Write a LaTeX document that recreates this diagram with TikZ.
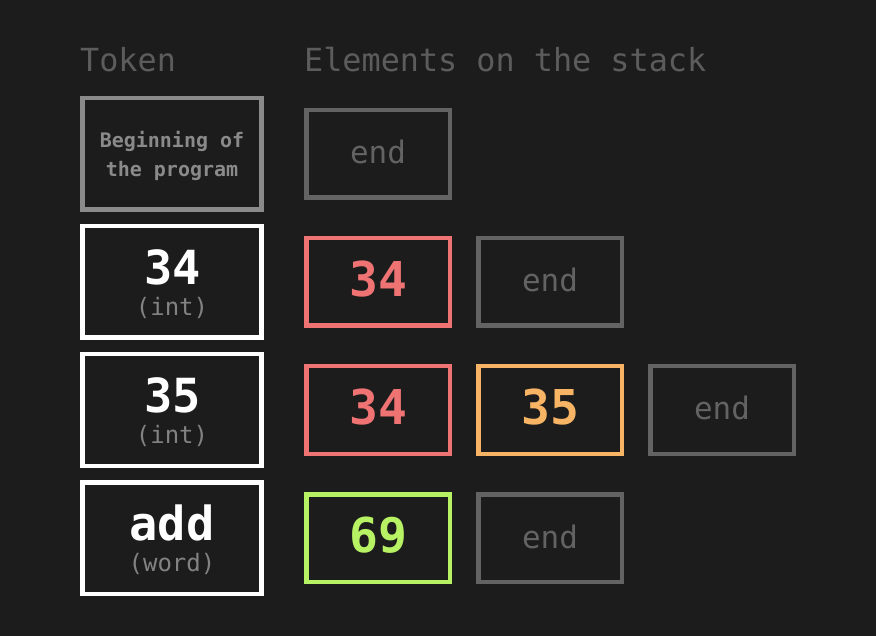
\documentclass[tikz,border=0pt]{standalone}
\usepackage{fontspec}
\setmainfont{DejaVu Sans Mono}
\setmonofont{DejaVu Sans Mono}
\definecolor{bg}{HTML}{1C1C1C}
\definecolor{hdr}{HTML}{5C5C5C}
\definecolor{endc}{HTML}{636363}
\definecolor{begc}{HTML}{8A8A8A}
\definecolor{typec}{HTML}{828282}
\definecolor{redc}{HTML}{F07373}
\definecolor{orc}{HTML}{F6B464}
\definecolor{grc}{HTML}{B6F264}
\tikzset{
  header/.style={anchor=base west, inner sep=0pt, text=hdr, font=\fontsize{31.8}{36}\selectfont},
  tokbox/.style={draw=white, line width=4.5pt, minimum width=179pt, minimum height=111.5pt, inner sep=0pt},
  stackbox/.style={line width=4.5pt, minimum width=143.5pt, minimum height=87.5pt, inner sep=0pt},
  endbox/.style={stackbox, draw=endc, text=endc, font=\fontsize{31}{36}\selectfont, text height=20pt, text depth=0pt},
  numbox/.style={stackbox, draw=#1, text=#1, font=\bfseries\fontsize{48}{52}\selectfont, text height=29pt, text depth=0pt},
  bigtok/.style={anchor=base, inner sep=0pt, text=white, font=\bfseries\fontsize{47}{52}\selectfont},
  typetok/.style={anchor=base, inner sep=0pt, text=typec, font=\fontsize{24}{28}\selectfont},
  begtok/.style={anchor=base, inner sep=0pt, text=begc, font=\bfseries\fontsize{20}{24}\selectfont},
}
\begin{document}
\begin{tikzpicture}[x=1pt,y=-1pt]
\fill[bg] (0,0) rectangle (876,636);
\useasboundingbox (0,0) rectangle (876,636);
% headers
\node[header] (htok) at (80,72) {Token};
\node[header] (hstack) at (304,72) {Elements on the stack};
% token column
\node[tokbox, draw=begc] (t1) at (172,154) {};
\node[begtok] (t1a) at (172,148) {Beginning of};
\node[begtok] (t1b) at (172,177) {the program};
\node[tokbox] (t2) at (172,282) {};
\node[bigtok] (t2a) at (173,284.5) {34};
\node[typetok] (t2b) at (172,315.5) {(int)};
\node[tokbox] (t3) at (172,410) {};
\node[bigtok] (t3a) at (173,412.5) {35};
\node[typetok] (t3b) at (172,443.5) {(int)};
\node[tokbox] (t4) at (172,538) {};
\node[bigtok] (t4a) at (172,540.5) {add};
\node[typetok] (t4b) at (172,571.5) {(word)};
% stack rows
\node[endbox] (s11) at (378,154) {end};
\node[numbox=redc] (s21) at (378,282) {34};
\node[endbox] (s22) at (550,282) {end};
\node[numbox=redc] (s31) at (378,410) {34};
\node[numbox=orc] (s32) at (550,410) {35};
\node[endbox] (s33) at (722,410) {end};
\node[numbox=grc] (s41) at (378,538) {69};
\node[endbox] (s42) at (550,538) {end};
\end{tikzpicture}
\end{document}
